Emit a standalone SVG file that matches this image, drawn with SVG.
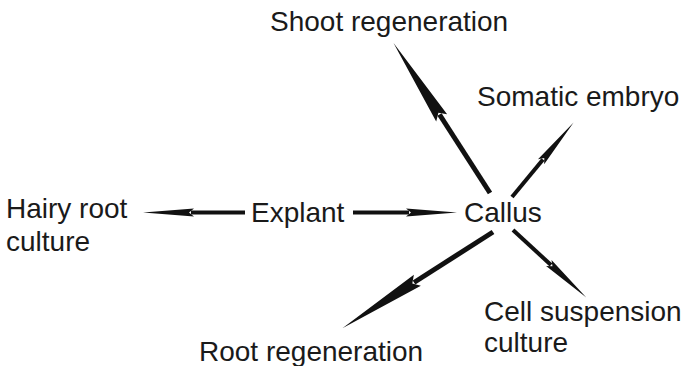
<svg xmlns="http://www.w3.org/2000/svg" width="685" height="366" viewBox="0 0 685 366">
  <style>
    .lbl { font-family: "Liberation Sans", Arial, Helvetica, sans-serif; font-size: 28px; fill: #1a1a1a; }
    .shaft { stroke: #111; stroke-linecap: butt; fill: none; }
    .long { stroke-width: 5; marker-end: url(#headLong); }
    .short { stroke-width: 4; marker-end: url(#headShort); }
  </style>
  <defs>
    <!-- marker origin sits at the end of the shaft; the head runs forward to the tip -->
    <marker id="headLong" markerUnits="userSpaceOnUse" orient="auto" refX="0" refY="0"
            markerWidth="100" markerHeight="20" viewBox="-10 -10 100 20" overflow="visible">
      <path d="M2,0 L-4,-6.5 L85,0 L-4,6.5 Z" fill="#111"/>
    </marker>
    <marker id="headShort" markerUnits="userSpaceOnUse" orient="auto" refX="0" refY="0"
            markerWidth="60" markerHeight="16" viewBox="-8 -8 60 16" overflow="visible">
      <path d="M2,0 L-3,-4 L48,0 L-3,4 Z" fill="#111"/>
    </marker>
  </defs>

  <g id="connectors">
    <!-- Explant -> Hairy root culture -->
    <line class="shaft short" x1="245" y1="212.5" x2="191" y2="212.5"/>
    <!-- Explant -> Callus -->
    <line class="shaft short" x1="353" y1="212.5" x2="409" y2="212.5"/>
    <!-- Callus -> Shoot regeneration -->
    <line class="shaft long" x1="490" y1="193" x2="439.5" y2="114.5"/>
    <!-- Callus -> Somatic embryo -->
    <line class="shaft short" x1="512" y1="197" x2="543" y2="159.5"/>
    <!-- Callus -> Cell suspension culture -->
    <line class="shaft short" x1="513" y1="230" x2="551" y2="265"/>
    <!-- Callus -> Root regeneration -->
    <line class="shaft long" x1="493" y1="232" x2="414" y2="282.5"/>
  </g>

  <g id="node-shoot"><text class="lbl" x="270" y="31">Shoot regeneration</text></g>
  <g id="node-somatic"><text class="lbl" x="477" y="106">Somatic embryo</text></g>
  <g id="node-hairy">
    <text class="lbl" x="6" y="218">Hairy root</text>
    <text class="lbl" x="6" y="251">culture</text>
  </g>
  <g id="node-explant"><text class="lbl" x="251" y="222">Explant</text></g>
  <g id="node-callus"><text class="lbl" x="464" y="222">Callus</text></g>
  <g id="node-cell">
    <text class="lbl" x="484" y="321">Cell suspension</text>
    <text class="lbl" x="484" y="352">culture</text>
  </g>
  <g id="node-root"><text class="lbl" x="199" y="361">Root regeneration</text></g>
</svg>
